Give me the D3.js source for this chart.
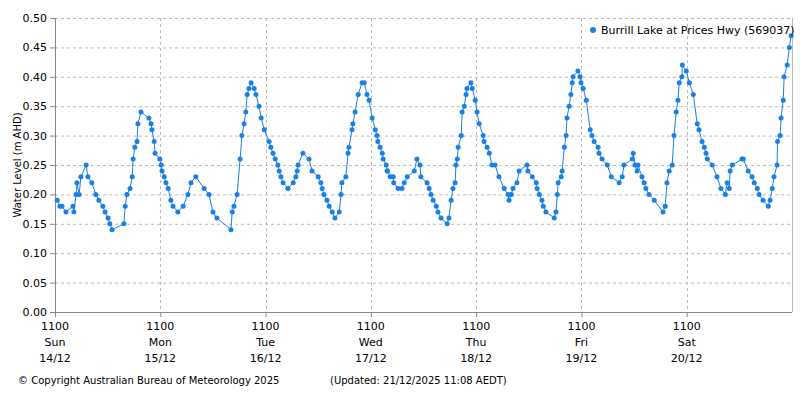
<!DOCTYPE html>
<html><head><meta charset="utf-8">
<script src="https://cdn.jsdelivr.net/npm/d3@7"></script>
<style>body{margin:0;background:#fff}text{font-family:"DejaVu Sans",sans-serif}</style>
</head><body><svg id="c" width="800" height="400"></svg>
<script>
// hours since Sun 14/12 11:00
const hours=[0.5,1.1,1.6,2.5,4.1,4.3,4.8,5.0,5.5,5.9,7.1,7.5,8.4,9.3,10.0,10.9,11.4,12.1,12.5,13.0,15.7,16.0,16.4,17.1,17.6,17.8,18.2,18.7,18.9,19.6,21.4,21.9,22.1,22.6,22.8,23.9,24.2,24.4,24.9,25.3,25.8,26.4,26.9,28.0,29.2,30.3,31.0,32.1,34.0,35.1,36.0,36.9,40.1,40.4,40.8,41.5,42.2,42.6,43.1,43.5,43.8,44.2,44.7,45.4,45.8,46.5,47.0,47.7,48.8,49.2,49.7,50.2,50.8,51.1,51.5,52.0,53.1,54.3,54.9,55.2,55.4,56.5,57.9,58.6,60.0,60.6,60.9,61.3,62.0,62.5,63.2,63.8,64.8,65.2,65.4,66.3,66.8,67.0,67.7,67.9,68.4,69.1,70.0,70.5,71.1,71.6,72.3,73.0,73.4,73.6,74.1,74.6,74.8,75.5,75.7,75.8,76.4,77.1,77.2,78.2,79.1,79.6,80.3,81.9,82.5,83.2,83.4,84.8,85.3,85.7,86.2,86.9,87.3,88.0,89.4,89.8,90.3,90.7,91.2,91.4,91.7,91.9,92.6,92.8,93.3,93.7,93.9,94.8,95.1,95.8,96.2,96.7,97.6,97.8,98.5,99.0,99.6,100.3,101.2,102.4,103.3,103.5,104.0,104.4,105.3,105.8,107.6,107.8,108.8,109.7,109.9,110.4,111.0,111.3,111.9,113.8,114.2,114.5,114.7,115.4,115.6,116.1,116.5,116.7,117.2,117.6,117.9,118.1,119.2,119.7,119.9,120.4,121.1,122.0,122.4,122.9,123.8,124.0,124.7,125.9,126.8,128.6,129.3,129.7,131.6,131.8,132.2,132.7,132.9,133.8,134.3,134.7,135.4,136.6,138.6,139.1,139.5,140.0,140.7,141.1,141.6,142.0,142.3,142.9,143.0,143.9,144.6,145.5,146.4,146.8,147.5,148.0,148.4,148.7,149.8,150.9,151.8,152.8,153.2,153.7,153.9,154.4,156.6,156.9,158.0,158.9,159.4,160.1,160.5,161.4,162.6,163.0,163.5,163.9,164.6,164.7,165.3,165.5,166.0,166.2,166.9,167.4,167.8];
const levels=[0.19,0.18,0.18,0.17,0.18,0.17,0.20,0.22,0.20,0.23,0.25,0.23,0.22,0.20,0.19,0.18,0.17,0.16,0.15,0.14,0.15,0.18,0.20,0.21,0.23,0.26,0.28,0.29,0.32,0.34,0.33,0.32,0.31,0.29,0.27,0.26,0.25,0.24,0.23,0.22,0.21,0.19,0.18,0.17,0.18,0.20,0.22,0.23,0.21,0.20,0.17,0.16,0.14,0.17,0.18,0.20,0.26,0.30,0.32,0.34,0.37,0.38,0.39,0.38,0.37,0.35,0.33,0.31,0.29,0.28,0.27,0.26,0.25,0.24,0.23,0.22,0.21,0.22,0.23,0.24,0.25,0.27,0.26,0.24,0.23,0.22,0.21,0.20,0.19,0.18,0.17,0.16,0.17,0.20,0.22,0.23,0.27,0.28,0.31,0.32,0.34,0.37,0.39,0.39,0.37,0.36,0.33,0.31,0.30,0.29,0.28,0.27,0.26,0.25,0.24,0.24,0.23,0.23,0.22,0.21,0.21,0.22,0.23,0.24,0.26,0.25,0.23,0.22,0.21,0.20,0.19,0.18,0.17,0.16,0.15,0.16,0.19,0.21,0.22,0.25,0.26,0.28,0.30,0.34,0.35,0.37,0.38,0.39,0.38,0.36,0.34,0.32,0.30,0.29,0.28,0.27,0.25,0.25,0.23,0.21,0.20,0.19,0.20,0.21,0.22,0.24,0.25,0.24,0.23,0.22,0.21,0.20,0.19,0.18,0.17,0.16,0.17,0.20,0.22,0.23,0.24,0.28,0.30,0.33,0.35,0.37,0.39,0.40,0.41,0.40,0.39,0.38,0.36,0.31,0.30,0.29,0.28,0.27,0.26,0.25,0.23,0.22,0.23,0.25,0.26,0.27,0.25,0.24,0.25,0.23,0.22,0.21,0.20,0.19,0.17,0.18,0.22,0.24,0.25,0.30,0.34,0.36,0.39,0.40,0.42,0.41,0.39,0.37,0.32,0.31,0.29,0.28,0.27,0.26,0.25,0.23,0.21,0.20,0.22,0.21,0.24,0.25,0.26,0.26,0.24,0.23,0.22,0.21,0.20,0.19,0.18,0.19,0.21,0.23,0.25,0.29,0.30,0.33,0.36,0.40,0.42,0.45,0.47,0.46];
const tickHours=[0,24,48,72,96,120,144];
const tickTimes=["1100","1100","1100","1100","1100","1100","1100"];
const tickDays=["Sun","Mon","Tue","Wed","Thu","Fri","Sat"];
const tickDates=["14/12","15/12","16/12","17/12","18/12","19/12","20/12"];
const yTicks=[0,0.05,0.1,0.15,0.2,0.25,0.3,0.35,0.4,0.45,0.5];
const seriesName="Burrill Lake at Prices Hwy (569037)";
const color="#1a80e6";
const svg=d3.select("#c");
const L=55,R=792,T=18,B=312;
const x=d3.scaleLinear().domain([0,168]).range([L,R]);
const y=d3.scaleLinear().domain([0,0.5]).range([B,T]);
const g=svg.append("g");
g.selectAll(".hg").data(yTicks.slice(1)).join("line").attr("x1",L).attr("x2",R).attr("y1",d=>y(d)+.5).attr("y2",d=>y(d)+.5).attr("stroke","#bbb").attr("stroke-dasharray","3,3");
g.selectAll(".vg").data(tickHours.slice(1)).join("line").attr("y1",T).attr("y2",B).attr("x1",d=>Math.round(x(d))+.5).attr("x2",d=>Math.round(x(d))+.5).attr("stroke","#bbb").attr("stroke-dasharray","3,3");
g.append("line").attr("x1",L+.5).attr("x2",L+.5).attr("y1",T).attr("y2",B).attr("stroke","#888");
g.append("line").attr("x1",L).attr("x2",R).attr("y1",B+.5).attr("y2",B+.5).attr("stroke","#888");
g.append("line").attr("x1",R+.5).attr("x2",R+.5).attr("y1",T).attr("y2",B).attr("stroke","#bbb");
const ya=svg.append("g").attr("transform",`translate(${L},0)`).call(d3.axisLeft(y).tickValues(yTicks).tickFormat(d3.format(".2f")).tickSize(5));
ya.select(".domain").remove();ya.selectAll("line").attr("stroke","#888");ya.selectAll("text").attr("font-size",11).attr("fill","#000");
const xa=svg.append("g").attr("transform",`translate(0,${B})`).call(d3.axisBottom(x).tickValues(tickHours).tickFormat("").tickSize(5));
xa.select(".domain").remove();xa.selectAll("line").attr("stroke","#888");
tickHours.forEach((h,i)=>{[tickTimes[i],tickDays[i],tickDates[i]].forEach((t,j)=>{
 svg.append("text").attr("x",x(h)).attr("y",330+j*16).attr("text-anchor","middle").attr("font-size",11).text(t);});});
svg.append("text").attr("transform","translate(21,165) rotate(-90)").attr("text-anchor","middle").attr("font-size",10).text("Water Level (m AHD)");
const data=hours.map((h,i)=>[h,levels[i]]);
svg.append("path").datum(data).attr("fill","none").attr("stroke",color).attr("stroke-width",1).attr("d",d3.line().x(d=>x(d[0])).y(d=>y(d[1])));
svg.selectAll(".pt").data(data).join("circle").attr("cx",d=>x(d[0])).attr("cy",d=>y(d[1])).attr("r",2.5).attr("fill",color);
svg.append("circle").attr("cx",593).attr("cy",30).attr("r",3).attr("fill",color);
svg.append("text").attr("x",601).attr("y",34).attr("font-size",11).text(seriesName);
svg.append("text").attr("x",18).attr("y",384).attr("font-size",10).text("© Copyright Australian Bureau of Meteorology 2025");
svg.append("text").attr("x",330).attr("y",384).attr("font-size",10).text("(Updated: 21/12/2025 11:08 AEDT)");
</script></body></html>
